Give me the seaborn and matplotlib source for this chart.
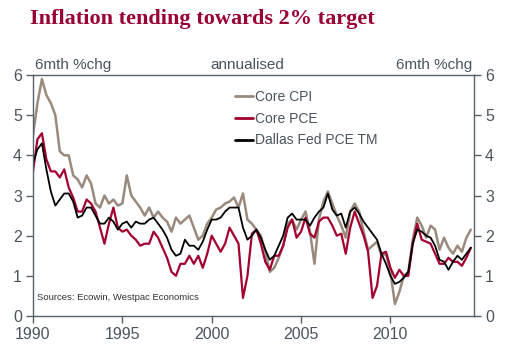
import numpy as np
import pandas as pd
import matplotlib
matplotlib.use("Agg")
import matplotlib.pyplot as plt
import seaborn as sns
from matplotlib.lines import Line2D

# quarterly readings, 1990Q1 .. 2014Q3 (6mth %chg annualised)
core_cpi = [
    4.5, 5.3, 5.9, 5.5,
    5.3, 5.0, 4.1, 4.0,
    4.0, 3.5, 3.4, 3.2,
    3.5, 3.3, 2.8, 2.7,
    3.0, 2.8, 2.9, 2.75,
    2.8, 3.5, 3.0, 2.85,
    2.7, 2.5, 2.7, 2.45,
    2.6, 2.45, 2.35, 2.1,
    2.45, 2.3, 2.4, 2.5,
    2.2, 1.9, 2.0, 2.3,
    2.45, 2.65, 2.7, 2.8,
    2.85, 2.95, 2.7, 3.05,
    2.4, 2.3, 2.15, 2.0,
    1.6, 1.1, 1.2, 1.45,
    1.75, 2.3, 2.4, 2.15,
    2.4, 2.6, 2.1, 1.3,
    2.4, 2.85, 3.1, 2.8,
    2.5, 2.25, 1.95, 2.6,
    2.8, 2.6, 2.1, 1.65,
    1.75, 1.85, 1.5, 1.55,
    1.1, 0.3, 0.6, 1.0,
    1.1, 1.9, 2.45, 2.25,
    1.95, 2.25, 2.15, 1.65,
    1.95, 1.7, 1.55, 1.75,
    1.6, 1.95, 2.15,
]
core_pce = [
    3.6, 4.4, 4.55, 3.9,
    3.6, 3.6, 3.45, 3.65,
    3.2, 2.95, 2.6, 2.6,
    2.9, 2.8, 2.6, 2.2,
    1.8, 2.3, 2.7, 2.2,
    2.1, 2.15, 2.0, 1.9,
    1.75, 1.8, 1.8, 2.1,
    1.95, 1.7, 1.45, 1.1,
    1.0, 1.3, 1.3, 1.5,
    1.3, 1.5, 1.2, 1.55,
    2.0, 1.8, 1.6, 1.8,
    2.2, 2.0, 1.8, 0.45,
    1.0, 2.05, 2.15, 1.8,
    1.35, 1.15, 1.5, 1.5,
    1.75, 2.2, 2.4, 1.95,
    2.1, 2.45, 2.05, 1.95,
    2.35, 2.45, 2.45, 2.25,
    2.0, 2.05, 1.55, 2.2,
    2.6, 2.3, 2.0, 1.6,
    0.45, 0.75, 1.55, 1.6,
    1.2, 0.95, 1.15, 1.0,
    1.0, 1.8, 2.3, 1.9,
    1.85, 1.8, 1.55, 1.3,
    1.3, 1.45, 1.35, 1.35,
    1.25, 1.45, 1.7,
]
dallas_tm = [
    3.8, 4.15, 4.3, 3.65,
    3.1, 2.75, 2.9, 3.05,
    3.05, 2.85, 2.45, 2.5,
    2.7, 2.7, 2.5, 2.3,
    2.3, 2.45, 2.35, 2.15,
    2.3, 2.35, 2.2, 2.35,
    2.3, 2.3, 2.4, 2.45,
    2.3, 2.15, 1.95, 1.65,
    1.5, 1.55, 1.9, 1.75,
    1.75, 1.65, 1.85, 2.15,
    2.4, 2.4, 2.45, 2.6,
    2.7, 2.7, 2.7, 2.2,
    1.9, 2.0, 2.15, 1.95,
    1.65, 1.4, 1.5, 1.75,
    2.0, 2.45, 2.55, 2.4,
    2.4, 2.4, 2.25, 2.45,
    2.6, 2.7, 3.05, 2.65,
    2.5, 2.55, 2.2, 2.6,
    2.7, 2.55, 2.35, 2.2,
    2.05, 1.9, 1.55, 1.3,
    1.0, 0.8, 0.85, 0.95,
    1.1, 1.8, 2.15, 2.1,
    2.0, 1.95, 1.75, 1.4,
    1.35, 1.15, 1.35, 1.5,
    1.4, 1.55, 1.7,
]
series_names = ["Core CPI", "Core PCE", "Dallas Fed PCE TM"]
year_ticks = [1990, 1995, 2000, 2005, 2010]
y_ticks = [0, 1, 2, 3, 4, 5, 6]

years = 1990 + np.arange(len(core_cpi)) / 4.0
df = pd.DataFrame({"year": years,
                   series_names[0]: core_cpi,
                   series_names[1]: core_pce,
                   series_names[2]: dallas_tm})
long_df = df.melt(id_vars="year", var_name="series", value_name="pct")

AXIS_COL = "#56606a"
TEXT_COL = "#4a545e"

sns.set_style("white")
plt.rcParams["font.family"] = ["Liberation Sans", "DejaVu Sans"]

fig = plt.figure(figsize=(5.09, 3.51), dpi=100)
ax = fig.add_axes([0.0648, 0.0997, 0.8662, 0.6866])

palette = {"Core CPI": "#9a8a7e", "Core PCE": "#a3002f", "Dallas Fed PCE TM": "#000000"}
sns.lineplot(data=long_df, x="year", y="pct", hue="series", palette=palette,
             hue_order=series_names, ax=ax, legend=False)
widths = [1.8, 1.6, 1.3]
for line, w in zip(ax.lines, widths):
    line.set_linewidth(w)

ax.set_xlim(1990, 2014.67)
ax.set_ylim(0, 6)
ax.set_xticks(year_ticks)
ax.set_xticklabels([str(y) for y in year_ticks])
ax.set_yticks(y_ticks)
ax.set_xlabel("")
ax.set_ylabel("")
ax.tick_params(axis="both", direction="out", length=5, width=1, color=AXIS_COL,
               labelcolor=TEXT_COL, labelsize=11.5, pad=3)
ax.tick_params(axis="y", right=True, labelright=True, left=True)
ax.tick_params(axis="x", bottom=True)
for sp in ax.spines.values():
    sp.set_color(AXIS_COL)
    sp.set_linewidth(1)

# legend
handles = [Line2D([], [], color=palette[n], lw=2) for n in series_names]
leg = ax.legend(handles, series_names, loc="upper left", bbox_to_anchor=(0.445, 0.96),
                frameon=False, fontsize=10, handlelength=1.3, handletextpad=0.15,
                labelspacing=0.55, borderaxespad=0)
for t in leg.get_texts():
    t.set_color(TEXT_COL)

# texts above the plot
ax.text(0.005, 1.012, "6mth %chg", transform=ax.transAxes, ha="left", va="bottom",
        fontsize=11, color=TEXT_COL)
ax.text(0.487, 1.012, "annualised", transform=ax.transAxes, ha="center", va="bottom",
        fontsize=11, color=TEXT_COL)
ax.text(0.997, 1.012, "6mth %chg", transform=ax.transAxes, ha="right", va="bottom",
        fontsize=11, color=TEXT_COL)
ax.text(0.01, 0.075, "Sources: Ecowin, Westpac Economics", transform=ax.transAxes,
        ha="left", va="center", fontsize=6.8, color="#333333")

fig.text(0.059, 0.945, "Inflation tending towards 2% target", ha="left", va="center",
         fontsize=16, fontweight="bold", color="#990033",
         family=["Liberation Serif", "DejaVu Serif"])

fig.savefig("out.png", dpi=100)
